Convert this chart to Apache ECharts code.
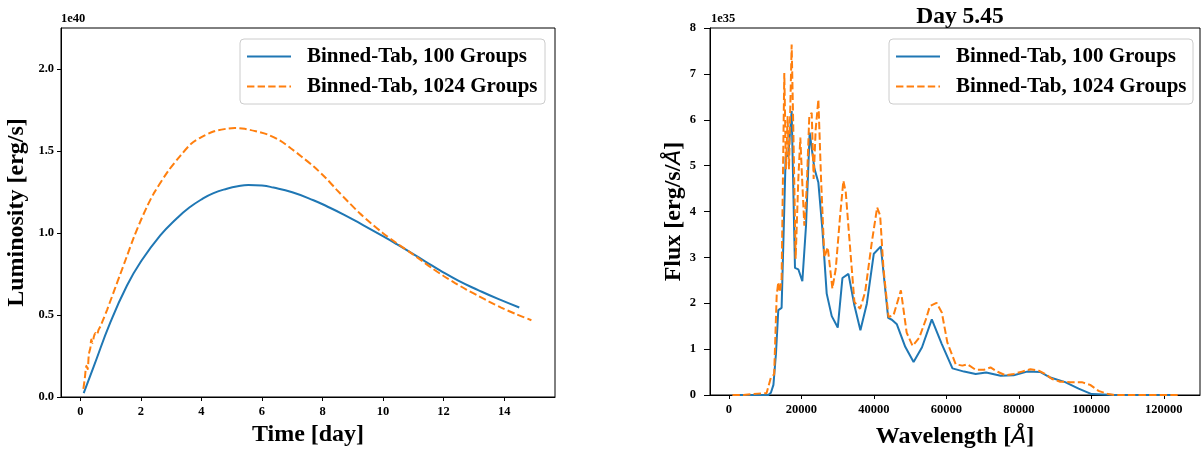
<!DOCTYPE html>
<html>
<head>
<meta charset="utf-8">
<script src="https://cdn.jsdelivr.net/npm/echarts@6/dist/echarts.min.js"></script>
<style>
  html, body { margin: 0; padding: 0; background: #fff; }
  #chart { width: 1201px; height: 454px; }
</style>
</head>
<body>
<div id="chart"></div>
<script>
// ---- light curve (units of 1e40 erg/s) ----
const timeBlue = [0.11, 0.44, 0.99, 1.54, 1.98, 2.64, 3.19, 3.6, 4.02, 4.4, 4.84, 5.2, 5.55, 6.0, 6.38, 7.0, 7.7, 8.14, 8.7, 9.24, 9.98, 10.45, 10.93, 11.4, 11.88, 12.5, 13.14, 13.8, 14.5]
const lumBlue = [0.024, 0.185, 0.455, 0.68, 0.82, 0.985, 1.09, 1.155, 1.207, 1.243, 1.27, 1.285, 1.292, 1.289, 1.277, 1.248, 1.2, 1.163, 1.112, 1.058, 0.982, 0.932, 0.879, 0.826, 0.772, 0.708, 0.652, 0.598, 0.546]

const timeOrange = [0.10, 0.15, 0.2, 0.24, 0.28, 0.33, 0.36, 0.4, 0.45, 0.5, 0.55, 0.6, 0.66, 0.75, 0.88, 1.0, 1.15, 1.32, 1.5, 1.77, 1.98, 2.2, 2.42, 2.91, 3.3, 3.66, 4.0, 4.42, 4.8, 5.1, 5.43, 5.8, 6.19, 6.6, 6.95, 7.3, 7.71, 8.1, 8.47, 8.85, 9.22, 9.6, 9.98, 10.45, 10.93, 11.3, 11.62, 12.0, 12.38, 12.75, 13.14, 13.5, 13.9, 14.4, 14.9]
const lumOrange = [0.05, 0.12, 0.19, 0.17, 0.26, 0.30, 0.35, 0.33, 0.37, 0.39, 0.38, 0.41, 0.43, 0.47, 0.53, 0.59, 0.665, 0.75, 0.84, 0.975, 1.07, 1.16, 1.24, 1.38, 1.47, 1.544, 1.585, 1.62, 1.635, 1.64, 1.635, 1.62, 1.60, 1.563, 1.517, 1.467, 1.405, 1.337, 1.263, 1.19, 1.122, 1.06, 1.002, 0.938, 0.877, 0.828, 0.785, 0.738, 0.695, 0.655, 0.617, 0.582, 0.545, 0.505, 0.468]

// ---- spectrum at day 5.45 (units of 1e35 erg/s/A) ----
const waveBlue = [1000, 5000, 9000, 10900, 11600, 12300, 13000, 13640, 14560, 15670, 16400, 17330, 18250, 19170, 20280, 21290, 22300, 23600, 24700, 25800, 27000, 28390, 30050, 31340, 33000, 34650, 36300, 38070, 40000, 41940, 43960, 44980, 46360, 48670, 50970, 53300, 56000, 58760, 61700, 64900, 68100, 71000, 75000, 78600, 82300, 86000, 88700, 92800, 96500, 100100, 106500, 115000, 122000]
const fluxBlue = [0, 0, 0, 0, 0.05, 0.22, 0.9, 1.85, 1.90, 5.18, 5.23, 6.19, 2.77, 2.74, 2.48, 3.69, 5.72, 4.94, 4.63, 3.62, 2.21, 1.72, 1.47, 2.55, 2.64, 1.95, 1.41, 1.99, 3.08, 3.24, 1.68, 1.64, 1.54, 1.05, 0.72, 1.04, 1.65, 1.11, 0.58, 0.51, 0.46, 0.49, 0.42, 0.43, 0.51, 0.50, 0.38, 0.28, 0.14, 0.02, 0, 0, 0]

const waveOrange = [1000, 4000, 4500, 8000, 10400, 10900, 11600, 12500, 13200, 13640, 14100, 14560, 15300, 15760, 16220, 16590, 17330, 17790, 18430, 19170, 19720, 20280, 20830, 21470, 22200, 22860, 23400, 23960, 24700, 25440, 26360, 27280, 28570, 29500, 30700, 31600, 32260, 33180, 34650, 36220, 37600, 39450, 40920, 41750, 42670, 44060, 45440, 47470, 49060, 50700, 52540, 54370, 55470, 57300, 58760, 60300, 62600, 64440, 65800, 68100, 70400, 72200, 74050, 76340, 78630, 80900, 83200, 85500, 87300, 89150, 91440, 94200, 97400, 99700, 102000, 104700, 106500, 124000]
const fluxOrange = [0, 0, 0.02, 0.03, 0.04, 0.18, 0.38, 0.45, 2.17, 2.46, 2.24, 2.53, 7.02, 4.92, 6.08, 4.92, 7.64, 5.79, 2.97, 4.71, 5.61, 4.6, 3.69, 4.49, 6.08, 6.15, 4.71, 5.79, 6.44, 4.71, 3.0, 3.22, 2.32, 2.75, 3.91, 4.67, 4.42, 3.48, 2.03, 1.88, 2.24, 3.33, 4.09, 3.91, 2.75, 1.70, 1.74, 2.28, 1.36, 1.07, 1.25, 1.65, 1.94, 2.01, 1.80, 1.14, 0.67, 0.64, 0.67, 0.55, 0.55, 0.60, 0.51, 0.43, 0.46, 0.51, 0.56, 0.53, 0.46, 0.35, 0.29, 0.28, 0.28, 0.22, 0.09, 0.02, 0, 0]

const timeTicks = [0, 2, 4, 6, 8, 10, 12, 14]
const lumTicks = [0, 0.5, 1.0, 1.5, 2.0]
const waveTicks = [0, 20000, 40000, 60000, 80000, 100000, 120000]

const NAME_100 = 'Binned-Tab, 100 Groups'
const NAME_1024 = 'Binned-Tab, 1024 Groups'
const BLUE = '#1f77b4'
const ORANGE = '#ff7f0e'
const DASH = [7.4, 3.2]
const FONT = 'Liberation Serif'

function pairs(xs, ys) {
  return xs.map((x, i) => [x, ys[i]])
}

const tickLabel = { fontFamily: FONT, fontWeight: 'bold', fontSize: 12.5, color: '#000' }
const axisLine = { show: true, onZero: false, lineStyle: { color: '#000', width: 1 } }
const axisTick = { show: true, length: 4, lineStyle: { color: '#000', width: 1 } }
const nameStyle = { fontFamily: FONT, fontWeight: 'bold', fontSize: 24, color: '#000' }
const angstrom = { i: { fontFamily: 'DejaVu Sans', fontStyle: 'italic', fontWeight: 'normal', fontSize: 22, color: '#000' } }

// legend drawn by hand: box, line sample, label (matplotlib style)
function legendBox(x, y, w) {
  const font = 'bold 21px "Liberation Serif"'
  return [
    { type: 'rect', shape: { x: x, y: y, width: w, height: 65, r: 4 }, style: { fill: 'rgba(255,255,255,0.8)', stroke: '#cccccc', lineWidth: 1 }, z: 10 },
    { type: 'line', shape: { x1: x + 7, y1: y + 17.5, x2: x + 51, y2: y + 17.5 }, style: { stroke: BLUE, lineWidth: 2 }, z: 11 },
    { type: 'line', shape: { x1: x + 7, y1: y + 47.5, x2: x + 51, y2: y + 47.5 }, style: { stroke: ORANGE, lineWidth: 2, lineDash: DASH }, z: 11 },
    { type: 'text', x: x + 67, y: y + 17.5, style: { text: NAME_100, font: font, fill: '#000', verticalAlign: 'middle' }, z: 11 },
    { type: 'text', x: x + 67, y: y + 47.5, style: { text: NAME_1024, font: font, fill: '#000', verticalAlign: 'middle' }, z: 11 }
  ]
}

const chart = echarts.init(document.getElementById('chart'), null, { renderer: 'canvas' })

chart.setOption({
  animation: false,
  backgroundColor: '#fff',
  title: {
    text: 'Day 5.45',
    left: 955,
    top: 0,
    textAlign: 'center',
    textStyle: { fontFamily: FONT, fontWeight: 'bold', fontSize: 23.5, color: '#000' }
  },
  grid: [
    { left: 61, top: 28, width: 494, height: 369, show: true, borderColor: '#000', borderWidth: 1, backgroundColor: 'transparent' },
    { left: 710, top: 28, width: 490, height: 369, show: true, borderColor: '#000', borderWidth: 1, backgroundColor: 'transparent' }
  ],
  xAxis: [
    {
      type: 'value', gridIndex: 0, min: -0.64, max: 15.68,
      name: 'Time [day]', nameLocation: 'middle', nameGap: 23, nameTextStyle: nameStyle,
      axisLine, axisTick: Object.assign({ customValues: timeTicks }, axisTick),
      axisLabel: Object.assign({ customValues: timeTicks, margin: 8, formatter: v => String(v) }, tickLabel),
      splitLine: { show: false }
    },
    {
      type: 'value', gridIndex: 1, min: -5200, max: 130000,
      name: 'Wavelength [{i|Å}]', nameLocation: 'middle', nameGap: 30,
      nameTextStyle: Object.assign({ rich: angstrom }, nameStyle),
      axisLine, axisTick: Object.assign({ customValues: waveTicks }, axisTick),
      axisLabel: Object.assign({ customValues: waveTicks, margin: 8, formatter: v => String(v) }, tickLabel),
      splitLine: { show: false }
    }
  ],
  yAxis: [
    {
      type: 'value', gridIndex: 0, min: 0, max: 2.25,
      name: 'Luminosity [erg/s]', nameLocation: 'middle', nameGap: 32, nameTextStyle: nameStyle,
      axisLine, axisTick: Object.assign({ customValues: lumTicks }, axisTick),
      axisLabel: Object.assign({ customValues: lumTicks, margin: 7, formatter: v => v.toFixed(1) }, tickLabel),
      splitLine: { show: false }
    },
    {
      type: 'value', gridIndex: 1, min: 0, max: 8, interval: 1,
      name: 'Flux [erg/s/{i|Å}]', nameLocation: 'middle', nameGap: 24,
      nameTextStyle: Object.assign({ rich: angstrom }, nameStyle),
      axisLine, axisTick: Object.assign({}, axisTick, { length: 6 }),
      axisLabel: Object.assign({ margin: 14, formatter: v => String(v) }, tickLabel),
      splitLine: { show: false }
    }
  ],
  graphic: [
    { type: 'text', left: 61, top: 12, style: { text: '1e40', font: 'bold 12.5px "Liberation Serif"', fill: '#000' } },
    { type: 'text', left: 711, top: 12, style: { text: '1e35', font: 'bold 12.5px "Liberation Serif"', fill: '#000' } }
  ].concat(legendBox(240, 39, 305), legendBox(889, 39, 304)),
  series: [
    { name: NAME_100, type: 'line', xAxisIndex: 0, yAxisIndex: 0, data: pairs(timeBlue, lumBlue), smooth: 0.5, symbol: 'none', lineStyle: { color: BLUE, width: 2 } },
    { name: NAME_1024, type: 'line', xAxisIndex: 0, yAxisIndex: 0, data: pairs(timeOrange, lumOrange), smooth: 0.3, symbol: 'none', lineStyle: { color: ORANGE, width: 2, type: DASH } },
    { name: NAME_100, type: 'line', xAxisIndex: 1, yAxisIndex: 1, data: pairs(waveBlue, fluxBlue), symbol: 'none', lineStyle: { color: BLUE, width: 2 } },
    { name: NAME_1024, type: 'line', xAxisIndex: 1, yAxisIndex: 1, data: pairs(waveOrange, fluxOrange), symbol: 'none', lineStyle: { color: ORANGE, width: 2, type: DASH } }
  ]
})
</script>
</body>
</html>
